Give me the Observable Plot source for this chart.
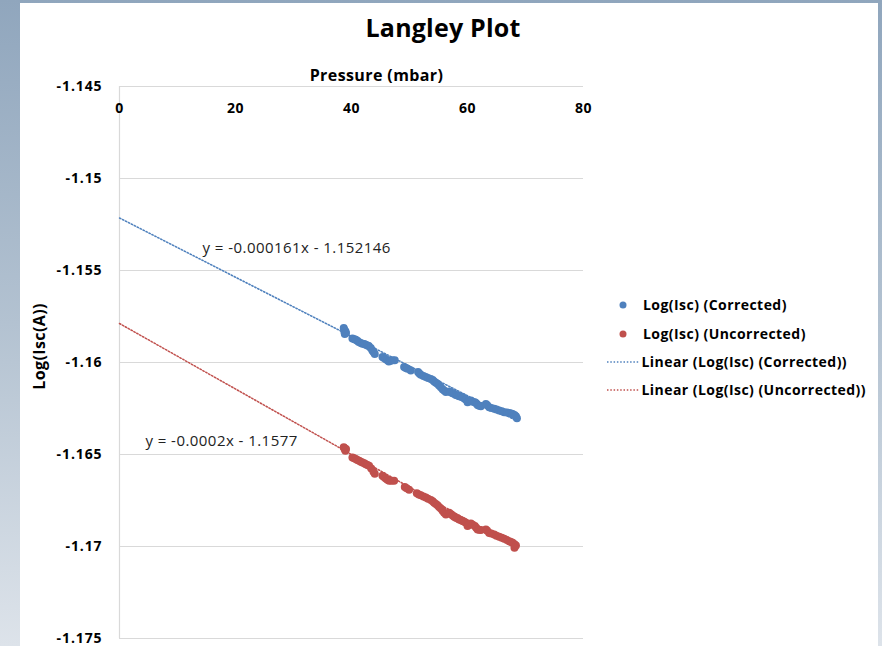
<!DOCTYPE html>
<html>
<head>
<meta charset="utf-8">
<script src="https://cdn.jsdelivr.net/npm/d3@7"></script>
<script src="https://cdn.jsdelivr.net/npm/@observablehq/plot@0.6"></script>
<style>
html,body{margin:0;padding:0;}
body{width:882px;height:646px;overflow:hidden;position:relative;background:linear-gradient(180deg,#90a6bd 0%,#b3c2d1 50%,#dde3ea 100%);font-family:"Open Sans",Lato,sans-serif;}
#card{position:absolute;left:20px;top:3px;width:858px;height:700px;background:#fff;}
#title{position:absolute;left:0;width:886px;top:7px;text-align:center;font-weight:bold;font-size:25px;line-height:40px;color:#000;letter-spacing:0.2px;}
#chart{position:absolute;left:0;top:0;}
#legend{position:absolute;left:0;top:0;}
.row{position:absolute;height:20px;line-height:20px;font-weight:bold;font-size:14px;color:#000;white-space:nowrap;letter-spacing:0.45px;}
.sw{position:absolute;}
</style>
</head>
<body>
<div id="card"></div>
<div id="title">Langley Plot</div>
<div id="chart"></div>
<div id="legend"></div>
<script>
// ---- data ----
const correctedP = [38.66,38.75,38.80,38.85,38.95,39.05,40.16,40.50,40.73,41.00,41.25,41.60,41.89,42.20,42.46,42.75,42.98,43.32,43.60,43.79,44.01,45.34,45.60,45.91,46.20,46.43,46.75,47.07,47.46,49.07,49.35,49.66,50.22,51.48,51.70,51.95,52.40,52.81,53.20,53.68,54.00,54.25,54.55,54.83,55.10,55.40,55.70,55.97,56.27,56.84,57.10,57.42,57.70,57.99,58.30,58.56,58.90,59.15,59.45,59.72,60.01,60.30,60.58,60.90,61.27,61.50,61.74,62.00,62.31,63.17,63.40,63.74,64.10,64.60,65.00,65.46,65.90,66.33,66.80,67.19,67.50,67.78,68.10,68.35,68.52];
const correctedLog = [-1.15812,-1.15822,-1.15835,-1.15845,-1.15830,-1.15840,-1.15870,-1.15874,-1.15877,-1.15882,-1.15888,-1.15894,-1.15898,-1.15900,-1.15903,-1.15907,-1.15910,-1.15921,-1.15935,-1.15943,-1.15954,-1.15970,-1.15975,-1.15983,-1.15988,-1.15994,-1.15990,-1.15988,-1.15988,-1.16025,-1.16030,-1.16034,-1.16043,-1.16052,-1.16060,-1.16067,-1.16073,-1.16079,-1.16084,-1.16089,-1.16095,-1.16103,-1.16110,-1.16116,-1.16125,-1.16134,-1.16145,-1.16152,-1.16161,-1.16157,-1.16162,-1.16167,-1.16170,-1.16176,-1.16180,-1.16183,-1.16186,-1.16189,-1.16195,-1.16201,-1.16216,-1.16210,-1.16207,-1.16213,-1.16216,-1.16222,-1.16231,-1.16235,-1.16238,-1.16225,-1.16232,-1.16243,-1.16247,-1.16252,-1.16256,-1.16261,-1.16265,-1.16270,-1.16272,-1.16274,-1.16277,-1.16280,-1.16286,-1.16292,-1.16303];
const uncorrectedP = [38.66,38.75,38.85,38.95,39.05,40.16,40.45,40.73,41.00,41.31,41.60,41.89,42.20,42.46,42.75,43.03,43.40,43.79,44.01,45.34,45.60,45.91,46.20,46.49,46.90,47.35,49.19,49.50,49.93,51.26,51.60,51.95,52.40,52.81,53.20,53.68,54.00,54.25,54.55,54.83,55.10,55.40,55.70,55.97,56.27,56.84,57.10,57.42,57.70,57.99,58.30,58.56,58.90,59.15,59.45,59.72,60.01,60.30,60.58,60.90,61.27,61.50,61.74,62.00,62.31,63.17,63.40,63.74,64.10,64.60,65.00,65.46,65.90,66.33,66.80,67.19,67.50,67.78,68.10,68.35,68.10];
const uncorrectedLog = [-1.16461,-1.16465,-1.16472,-1.16479,-1.16470,-1.16516,-1.16520,-1.16525,-1.16530,-1.16534,-1.16539,-1.16543,-1.16548,-1.16553,-1.16557,-1.16561,-1.16576,-1.16594,-1.16605,-1.16616,-1.16622,-1.16631,-1.16637,-1.16643,-1.16643,-1.16643,-1.16676,-1.16684,-1.16692,-1.16711,-1.16717,-1.16722,-1.16728,-1.16734,-1.16740,-1.16747,-1.16754,-1.16762,-1.16769,-1.16776,-1.16785,-1.16794,-1.16806,-1.16816,-1.16826,-1.16816,-1.16824,-1.16831,-1.16838,-1.16844,-1.16848,-1.16853,-1.16857,-1.16862,-1.16866,-1.16871,-1.16889,-1.16880,-1.16875,-1.16882,-1.16889,-1.16898,-1.16907,-1.16909,-1.16911,-1.16907,-1.16915,-1.16926,-1.16930,-1.16935,-1.16941,-1.16947,-1.16953,-1.16958,-1.16965,-1.16971,-1.16975,-1.16980,-1.16988,-1.16995,-1.17007];

const seriesNames = ["Log(Isc) (Corrected)", "Log(Isc) (Uncorrected)"];
const seriesColors = ["#4f81bd", "#c0504d"];
const trendNames = ["Linear (Log(Isc) (Corrected))", "Linear (Log(Isc) (Uncorrected))"];
const trendSlopes = [-0.000161, -0.000178];
const trendIntercepts = [-1.152146, -1.15788];
const trendRange = [0, 68.8];
const equationLabels = ["y = -0.000161x - 1.152146", "y = -0.0002x - 1.1577"];
const equationP = [30.55, 17.6];
const equationLog = [-1.15379, -1.16425];

const xTicks = [0, 20, 40, 60, 80];
const yTicks = [-1.175, -1.17, -1.165, -1.16, -1.155, -1.15, -1.145];
const xTitle = "Pressure (mbar)";
const yTitle = "Log(Isc(A))";

// ---- build tables ----
const points = [
  ...correctedP.map((p, i) => ({p, v: correctedLog[i], s: 0})),
  ...uncorrectedP.map((p, i) => ({p, v: uncorrectedLog[i], s: 1}))
];
const trends = [];
trendSlopes.forEach((m, s) => trendRange.forEach(p => trends.push({p, v: m * p + trendIntercepts[s], s})));
const eqs = equationLabels.map((t, i) => ({t, p: equationP[i], v: equationLog[i]}));

const bold = "bold";
const chart = Plot.plot({
  width: 882, height: 646,
  marginLeft: 119, marginRight: 299, marginTop: 86, marginBottom: 8,
  style: {background: "transparent", fontFamily: "'Open Sans', Lato, sans-serif", overflow: "visible", color: "#000"},
  x: {domain: [0, 80]},
  y: {domain: [-1.175, -1.145]},
  marks: [
    Plot.gridY(yTicks, {stroke: "#d9d9d9", strokeOpacity: 1, strokeWidth: 1.2}),
    Plot.ruleX([0], {stroke: "#d9d9d9", strokeWidth: 1.2}),
    Plot.axisX(xTicks, {anchor: "top", tickSize: 0, tickPadding: -22, lineAnchor: "middle", fontSize: 14, fontWeight: bold, fill: "#000", label: null}),
    Plot.axisY(yTicks, {anchor: "left", tickSize: 0, tickPadding: 17, fontSize: 14, fontWeight: bold, fill: "#000", tickFormat: d => String(d), label: null}),
    Plot.text([xTitle], {frameAnchor: "top", textAnchor: "middle", dx: 25, dy: -16.5, fontSize: 16, fontWeight: bold, fill: "#000"}),
    Plot.text([yTitle], {frameAnchor: "left", textAnchor: "middle", rotate: -90, dx: -80, dy: -16, fontSize: 16, fontWeight: bold, fill: "#000"}),
    Plot.line(trends, {x: "p", y: "v", z: "s", stroke: d => seriesColors[d.s], strokeWidth: 1.5, strokeDasharray: "1.5,1.8"}),
    Plot.dot(points, {x: "p", y: "v", r: 4, fill: d => seriesColors[d.s], stroke: "none"}),
    Plot.text(eqs, {x: "p", y: "v", text: "t", fontSize: 15, fill: "#222"})
  ]
});
document.getElementById("chart").appendChild(chart);

// letter spacing tweaks to approximate the original font widths
const sel = d3.select(chart);
sel.selectAll('g[aria-label="y-axis tick label"] text').style("letter-spacing", "0.9px");
sel.selectAll('g[aria-label="x-axis tick label"] text').style("letter-spacing", "0.6px");
const textGroups = sel.selectAll('g[aria-label="text"]').nodes();
if (textGroups[0]) d3.select(textGroups[0]).selectAll("text").style("letter-spacing", "0.4px");
if (textGroups[1]) d3.select(textGroups[1]).selectAll("text").style("letter-spacing", "0.4px");
if (textGroups[2]) d3.select(textGroups[2]).selectAll("text").style("letter-spacing", "0.45px");

// ---- legend ----
const legend = document.getElementById("legend");
const rowsY = [305, 333.5, 361.5, 390];
const entries = [
  {name: seriesNames[0], color: seriesColors[0], kind: "dot"},
  {name: seriesNames[1], color: seriesColors[1], kind: "dot"},
  {name: trendNames[0], color: seriesColors[0], kind: "line"},
  {name: trendNames[1], color: seriesColors[1], kind: "line"}
];
entries.forEach((e, i) => {
  const sw = document.createElementNS("http://www.w3.org/2000/svg", "svg");
  sw.setAttribute("class", "sw");
  sw.setAttribute("width", 40); sw.setAttribute("height", 10);
  sw.style.left = "603px"; sw.style.top = (rowsY[i] - 5) + "px";
  if (e.kind === "dot") {
    sw.innerHTML = `<circle cx="20" cy="5" r="3.5" fill="${e.color}"/>`;
  } else {
    sw.innerHTML = `<line x1="4" x2="37" y1="5" y2="5" stroke="${e.color}" stroke-width="1.5" stroke-dasharray="1.5,1.8"/>`;
  }
  legend.appendChild(sw);
  const row = document.createElement("div");
  row.className = "row";
  row.textContent = e.name;
  row.style.left = (e.kind === "dot" ? 643 : 641.5) + "px";
  row.style.top = (rowsY[i] - 10) + "px";
  legend.appendChild(row);
});
</script>
</body>
</html>
